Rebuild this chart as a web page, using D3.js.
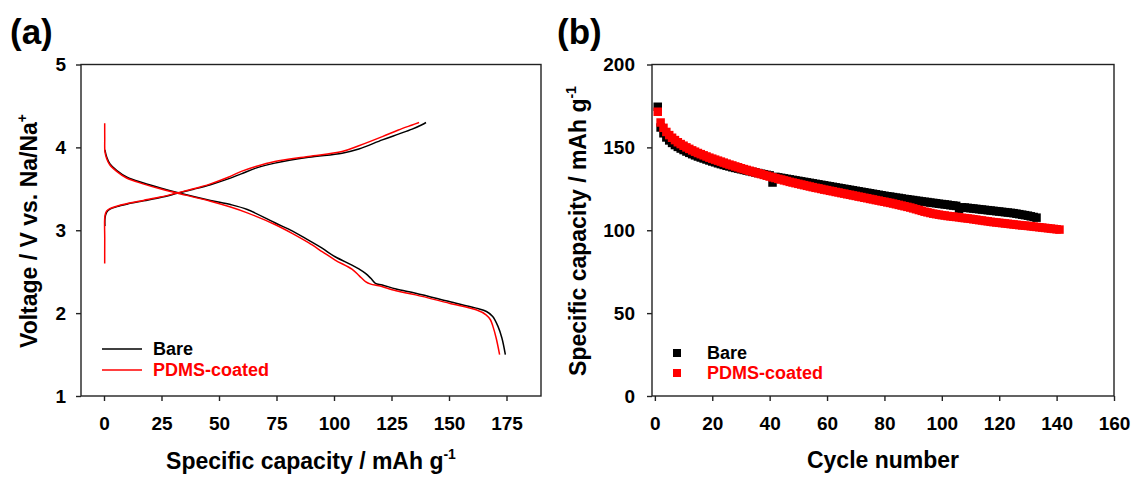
<!DOCTYPE html>
<html>
<head>
<meta charset="utf-8">
<script src="https://cdn.jsdelivr.net/npm/d3@7"></script>
<style>
body { margin: 0; background: #fff; }
svg text { font-family: "Liberation Sans", Arial, sans-serif; font-weight: bold; }
</style>
</head>
<body>
<svg id="fig" width="1133" height="477"></svg>
<script>
(function() {

// (a) galvanostatic profiles, [capacity (mAh/g), voltage (V)]
let bareCharge = [[0.4,3.05],[0.45,3.15],[1.2,3.22],[2.6,3.255],[5.6,3.285],[10,3.315],[17.2,3.355],[24.5,3.395],
    [31.8,3.445],[39,3.495],[46.3,3.55],[54,3.62],[59.7,3.68],[66,3.75],[74.3,3.81],[88.9,3.88],[103.5,3.93],
    [110.8,3.98],[121,4.09],[128,4.16],[134,4.22],[138,4.27],[140,4.30]];
let bareDischarge = [[0.4,3.97],[1.2,3.88],[2.6,3.80],[5.6,3.72],[10,3.64],[17.2,3.57],[24.5,3.51],[31.8,3.455],
    [46.3,3.36],[55,3.31],[62.3,3.25],[74.3,3.09],[82,2.99],[88.9,2.88],[95,2.78],[100.5,2.68],[107.8,2.58],
    [111,2.53],[113.7,2.48],[116,2.42],[118,2.36],[121,2.34],[127,2.29],[135.5,2.24],[150.1,2.14],[161.8,2.06],
    [166.3,2.02],[169,1.96],[171.3,1.84],[173,1.70],[174.5,1.50]];
let pdmsCharge = [[0.3,2.60],[0.32,2.90],[0.4,3.17],[1.1,3.23],[2.5,3.26],[5.5,3.29],[9.8,3.32],[17.1,3.36],
    [24.4,3.40],[31.7,3.45],[39,3.50],[46.3,3.56],[54,3.64],[59.7,3.71],[66,3.77],[74.3,3.83],[88.9,3.89],
    [103.5,3.95],[110.8,4.02],[121,4.13],[128,4.21],[134,4.27],[137,4.30]];
let pdmsDischarge = [[0.3,4.29],[0.32,4.10],[0.4,3.95],[1.1,3.87],[2.5,3.79],[5.5,3.71],[9.8,3.63],[17,3.56],
    [24.4,3.50],[31.7,3.45],[46.3,3.35],[55,3.28],[62.3,3.21],[74.3,3.07],[82,2.96],[88.9,2.85],[95,2.74],
    [100.5,2.64],[107.8,2.53],[111,2.45],[113.7,2.38],[116,2.35],[119.5,2.33],[127,2.27],[135.5,2.22],
    [150.1,2.12],[161.8,2.04],[166.1,1.98],[168,1.92],[169.1,1.84],[170.5,1.70],[172,1.50]];

// (b) discharge capacity per cycle (mAh/g), cycle 1..n
let bareCycle = [174.5,162.0,158.5,156.0,154.2,152.7,151.4,150.3,149.3,148.4,
    147.5,146.7,145.9,145.2,144.5,143.9,143.3,142.7,142.1,141.5,
    141.0,140.4,139.9,139.4,138.9,138.5,138.0,137.6,137.2,136.8,
    136.4,136.0,135.6,135.2,134.9,134.5,134.1,133.8,133.4,133.1,
    128.8,132.2,131.9,131.6,131.3,131.0,130.7,130.4,130.1,129.8,
    129.5,129.2,128.9,128.6,128.3,128.0,127.7,127.4,127.1,126.8,
    126.5,126.2,125.9,125.6,125.3,125.0,124.7,124.4,124.1,123.8,
    123.5,123.2,122.9,122.6,122.3,122.0,121.7,121.4,121.1,120.8,
    120.5,120.3,120.0,119.7,119.5,119.2,118.9,118.7,118.4,118.2,
    117.9,117.7,117.4,117.2,117.0,116.7,116.5,116.3,116.0,115.8,
    115.6,115.4,115.1,114.9,114.7,112.8,113.8,113.7,113.5,113.3,
    113.1,112.9,112.7,112.5,112.3,112.1,111.9,111.7,111.5,111.3,
    111.1,110.9,110.7,110.5,110.3,110.0,109.7,109.4,109.1,108.8,
    108.4,108.0,107.6];
let pdmsCycle = [171.5,165.0,161.8,159.3,157.4,155.8,154.4,153.1,152.0,151.0,
    150.0,149.1,148.2,147.4,146.6,145.9,145.2,144.5,143.8,143.2,
    142.6,142.0,141.4,140.8,140.2,139.6,139.1,138.5,138.0,137.4,
    136.9,136.4,135.9,135.4,134.9,134.4,133.9,133.4,132.9,132.4,
    131.9,131.5,131.0,130.6,130.1,129.7,129.2,128.8,128.4,128.0,
    127.6,127.2,126.8,126.4,126.0,125.6,125.3,124.9,124.5,124.2,
    123.8,123.5,123.1,122.8,122.4,122.1,121.7,121.4,121.0,120.7,
    120.3,120.0,119.6,119.3,118.9,118.6,118.2,117.9,117.5,117.2,
    116.8,116.5,116.1,115.7,115.3,114.9,114.5,114.1,113.7,113.2,
    112.7,112.2,111.7,111.2,110.8,110.4,110.0,109.7,109.4,109.1,
    108.9,108.6,108.4,108.2,108.0,107.8,107.5,107.3,107.1,106.9,
    106.6,106.4,106.1,105.9,105.6,105.4,105.1,104.9,104.7,104.5,
    104.3,104.1,103.9,103.7,103.5,103.3,103.1,102.9,102.8,102.6,
    102.4,102.2,102.0,101.8,101.6,101.4,101.2,101.0,100.8,100.6,
    100.4];

let seriesNames = ["Bare", "PDMS-coated"];
let seriesColors = ["#000000", "#ff0000"];

let voltTicks = [1, 2, 3, 4, 5];
let capTicks = [0, 25, 50, 75, 100, 125, 150, 175];
let specTicks = [0, 50, 100, 150, 200];
let cycleTicks = [0, 20, 40, 60, 80, 100, 120, 140, 160];


let svg = d3.select("#fig");
let plotTop = 64.5, plotBottom = 396;

let xA = d3.scaleLinear().domain([-10, 190]).range([81, 541]);
let yA = d3.scaleLinear().domain([1, 5]).range([plotBottom, plotTop]);
let xB = d3.scaleLinear().domain([-1, 160]).range([652, 1114]);
let yB = d3.scaleLinear().domain([0, 200]).range([plotBottom, plotTop]);

function drawAxes(x, y, xt, yt, yPad) {
    let g = svg.append("g");
    g.append("g")
        .attr("transform", "translate(0," + plotBottom + ")")
        .call(d3.axisBottom(x).tickValues(xt).tickFormat(d3.format("d"))
            .tickSize(5).tickSizeOuter(0).tickPadding(16));
    g.append("g")
        .attr("transform", "translate(" + x.range()[0] + ",0)")
        .call(d3.axisLeft(y).tickValues(yt).tickFormat(d3.format("d"))
            .tickSize(5).tickSizeOuter(0).tickPadding(yPad));
    g.selectAll(".tick line").attr("stroke", "#222").attr("stroke-width", 1.4);
    g.selectAll(".domain").remove();
    g.selectAll("g").attr("font-size", 19).attr("font-family", null);
    g.selectAll(".tick text").attr("fill", "#000");
    // full box
    g.append("rect")
        .attr("x", x.range()[0]).attr("y", plotTop)
        .attr("width", x.range()[1] - x.range()[0])
        .attr("height", plotBottom - plotTop)
        .attr("fill", "none").attr("stroke", "#222").attr("stroke-width", 1.4);
}

drawAxes(xA, yA, capTicks, voltTicks, 10);
drawAxes(xB, yB, cycleTicks, specTicks, 12);

// (a) curves
let line = d3.line()
    .x((d) => xA(d[0]))
    .y((d) => yA(d[1]))
    .curve(d3.curveCatmullRom.alpha(0.5));

let curves = [[bareCharge, 0], [bareDischarge, 0], [pdmsCharge, 1], [pdmsDischarge, 1]];
curves.forEach(function(c) {
    svg.append("path")
        .datum(c[0])
        .attr("d", line)
        .attr("fill", "none")
        .attr("stroke", seriesColors[c[1]])
        .attr("stroke-width", 1.5);
});

// (b) cycling squares
let sq = 8.5;
[bareCycle, pdmsCycle].forEach(function(vals, k) {
    svg.append("g").selectAll("rect")
        .data(vals)
        .join("rect")
        .attr("x", (d, i) => xB(i + 1) - sq / 2)
        .attr("y", (d) => yB(d) - sq / 2)
        .attr("width", sq).attr("height", sq)
        .attr("fill", seriesColors[k]);
});

// legends
seriesNames.forEach(function(name, k) {
    let ly = 349 + k * 21;
    svg.append("line")
        .attr("x1", 102).attr("x2", 142).attr("y1", ly).attr("y2", ly)
        .attr("stroke", seriesColors[k]).attr("stroke-width", 1.5);
    svg.append("text")
        .attr("x", 153).attr("y", ly).attr("dy", "0.36em")
        .attr("font-size", 18).attr("fill", seriesColors[k])
        .text(name);

    let ry = 353 + k * 20;
    svg.append("rect")
        .attr("x", 677 - 4).attr("y", ry - 4)
        .attr("width", 8).attr("height", 8)
        .attr("fill", seriesColors[k]);
    svg.append("text")
        .attr("x", 707).attr("y", ry).attr("dy", "0.36em")
        .attr("font-size", 18).attr("fill", seriesColors[k])
        .text(name);
});

// titles
function title(x, y, rot, main, sup) {
    let t = svg.append("text")
        .attr("transform", "translate(" + x + "," + y + ")" + (rot ? " rotate(-90)" : ""))
        .attr("text-anchor", "middle")
        .attr("font-size", 23);
    t.append("tspan").text(main);
    if (sup) t.append("tspan").attr("dy", -10).attr("font-size", 14).text(sup);
}

title(311, 469, false, "Specific capacity / mAh g", "-1");
title(883, 468, false, "Cycle number");
title(37, 231, true, "Voltage / V vs. Na/Na", "+");
title(586, 231, true, "Specific capacity / mAh g", "-1");

svg.append("text").attr("x", 10).attr("y", 44).attr("font-size", 35).text("(a)");
svg.append("text").attr("x", 557).attr("y", 44).attr("font-size", 35).text("(b)");

})();
</script>
</body>
</html>
